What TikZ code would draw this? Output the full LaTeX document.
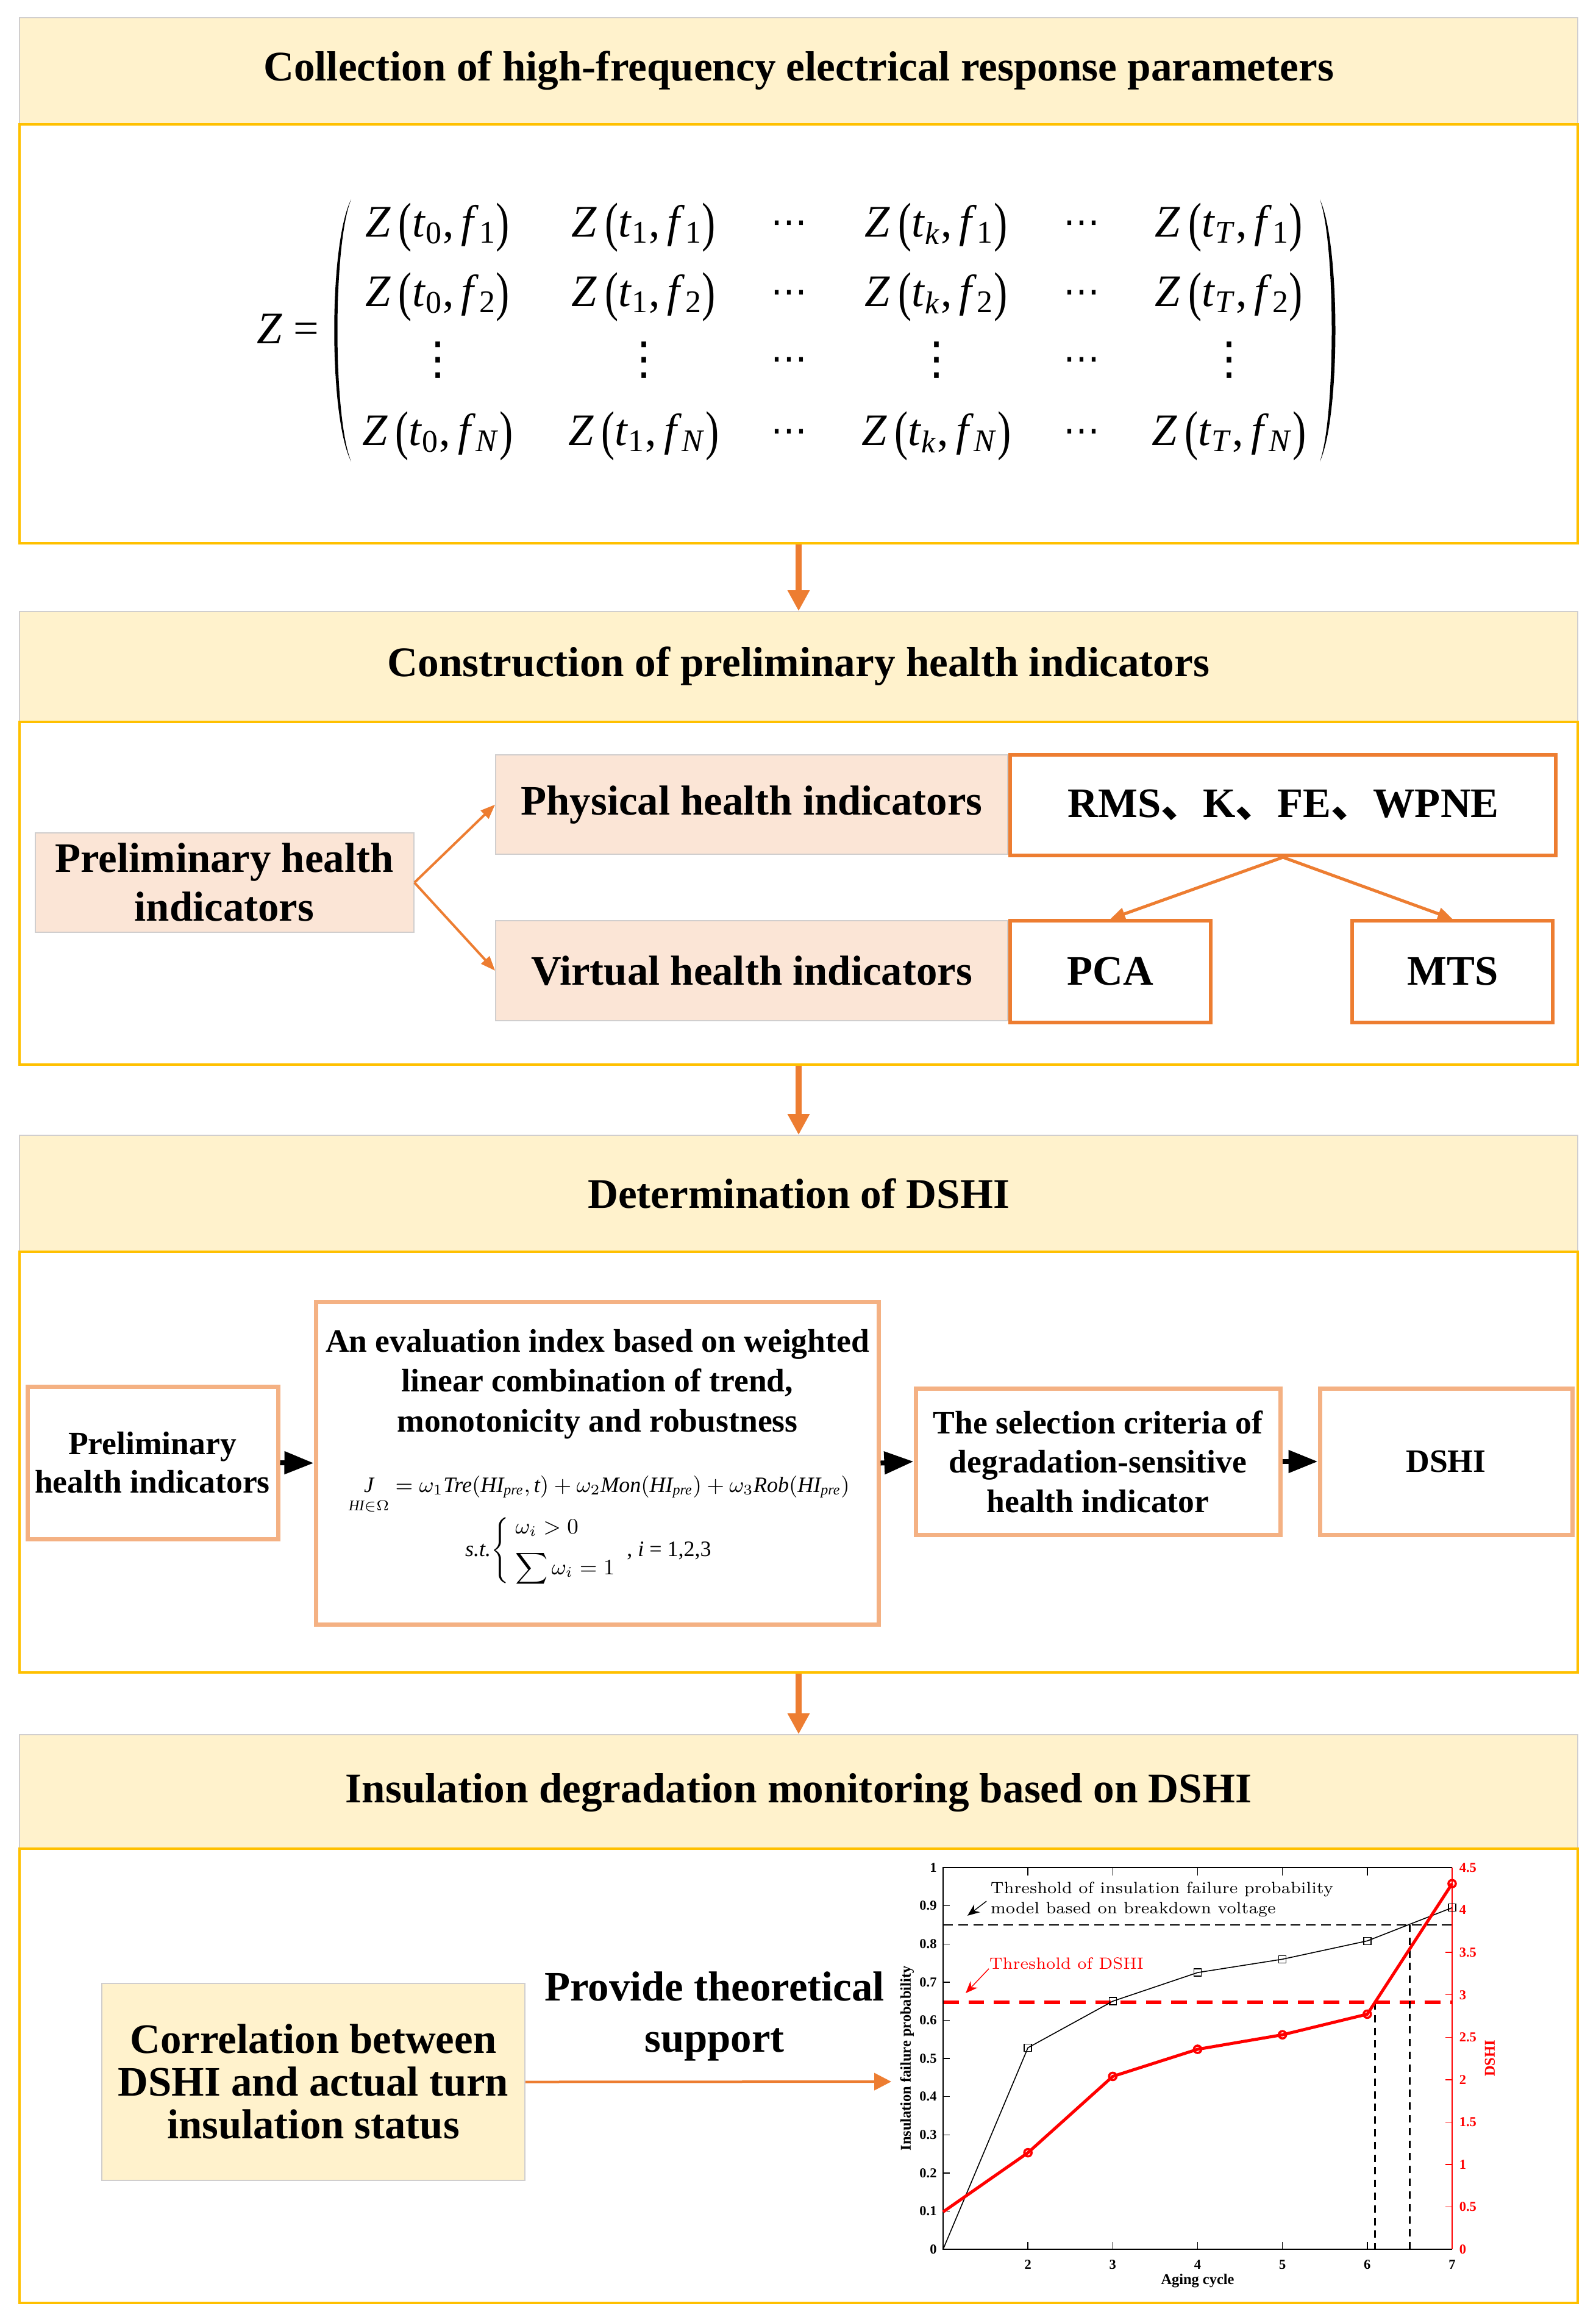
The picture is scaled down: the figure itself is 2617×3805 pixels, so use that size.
\documentclass[tikz,border=0pt]{standalone}
\usepackage{amsmath}
\usepackage{fontspec}
\setmainfont{Liberation Serif}
\newfontfamily\cjk{Noto Sans CJK SC}
\newfontfamily\dejavu{DejaVu Sans}
\usetikzlibrary{arrows.meta,fit,calc}
\definecolor{hdr}{HTML}{FFF2CC}
\definecolor{gold}{HTML}{FFC000}
\definecolor{hgray}{HTML}{D0CECE}
\definecolor{peach}{HTML}{FBE5D6}
\definecolor{orng}{HTML}{ED7D31}
\definecolor{lorng}{HTML}{F4B183}
\newcommand{\Zent}[2]{\textit{Z}\,\raisebox{-0.08em}{\scalebox{0.9}[1.2]{(}}\textit{t}\textsubscript{#1},\,\textit{f}\textsubscript{#2}\raisebox{-0.08em}{\scalebox{0.9}[1.2]{)}}}
\newcommand{\Vd}{{\dejavu ⋮}}
\newcommand{\Cd}{{\dejavu\fontsize{15}{18}\selectfont ⋯}}
\tikzset{
 hdrbox/.style={draw=hgray, fill=hdr, line width=0.4pt, inner sep=0pt},
 hdrtxt/.style={inner sep=0pt, font=\bfseries\fontsize{17.3}{20}\selectfont},
 bodybox/.style={draw=gold, line width=1pt, inner sep=0pt},
 secarrow/.style={orng, line width=2.5pt, -{Triangle[length=8.5pt,width=8.5pt]}},
 peachbox/.style={draw=hgray, fill=peach, line width=0.4pt, inner sep=0pt},
 obox/.style={draw=orng, fill=white, line width=1.5pt, inner sep=0pt},
 btxt/.style={inner sep=0pt, align=center, font=\bfseries\fontsize{17.2}{20}\selectfont},
 oarrow/.style={orng, line width=1pt, -{Triangle[length=6pt,width=4.5pt]}},
 oarrowb/.style={orng, line width=1.25pt, -{Triangle[length=6pt,width=5pt]}},
 lbox/.style={draw=lorng, fill=white, line width=1.75pt, inner sep=0pt},
 stxt/.style={inner sep=0pt, align=center, font=\bfseries\fontsize{13.4}{16.1}\selectfont},
 barrow/.style={black, line width=2pt, -{Triangle[length=12pt,width=9pt]}},
 matent/.style={font=\fontsize{18.5}{22}\selectfont, inner sep=0pt},
 eqfont/.style={font=\fontsize{9}{11}\selectfont, inner sep=0pt},
 ybox/.style={fill=hdr, draw=hgray, line width=0.4pt, inner sep=0pt},
 ticklab/.style={font=\bfseries\fontsize{5.6}{6}\selectfont, inner sep=0pt},
 axlab/.style={font=\bfseries\fontsize{6.1}{7}\selectfont, inner sep=0pt},
 annot/.style={font=\fontfamily{lmr}\selectfont\fontsize{6.7}{8}\selectfont, inner sep=0pt, anchor=west},
 sqmark/.style={draw, line width=0.35pt, minimum size=3pt, inner sep=0pt},
 circmark/.style={circle, draw=red, line width=0.9pt, minimum size=3pt, inner sep=0pt}
}
\begin{document}
\begin{tikzpicture}[x=0.25pt,y=-0.25pt]
\useasboundingbox (0,0) rectangle (2617,3805);
\fill[white] (0,0) rectangle (2617,3805);

% ---------- Section 1 ----------
\node[hdrbox, fit={(32,29)(2588,204)}] (h1) {};
\node[hdrtxt] (h1t) at (1310,116) {Collection of high-frequency electrical response parameters};
\node[bodybox, fit={(32,204)(2588,891)}] (b1) {};
\node[matent] (zeq) at (472,539) {\textit{Z} =};
\fill (576,327) .. controls (539,400) and (539,684) .. (576,757) .. controls (546,684) and (546,400) .. (576,327) -- cycle;
\fill (2165,327) .. controls (2199,400) and (2199,684) .. (2165,757) .. controls (2191,684) and (2191,400) .. (2165,327) -- cycle;
% row 1
\node[matent] (m11) at (718,373) {\Zent{0}{1}};
\node[matent] (m12) at (1056,373) {\Zent{1}{1}};
\node[matent] (m13) at (1294,373) {\Cd};
\node[matent] (m14) at (1536,373) {\Zent{\textit{k}}{1}};
\node[matent] (m15) at (1774,373) {\Cd};
\node[matent] (m16) at (2016,373) {\Zent{\textit{T}}{1}};
% row 2
\node[matent] (m21) at (718,487) {\Zent{0}{2}};
\node[matent] (m22) at (1056,487) {\Zent{1}{2}};
\node[matent] (m23) at (1294,487) {\Cd};
\node[matent] (m24) at (1536,487) {\Zent{\textit{k}}{2}};
\node[matent] (m25) at (1774,487) {\Cd};
\node[matent] (m26) at (2016,487) {\Zent{\textit{T}}{2}};
% row 3
\node[matent] (m31) at (718,590) {\Vd};
\node[matent] (m32) at (1056,590) {\Vd};
\node[matent] (m33) at (1294,597) {\Cd};
\node[matent] (m34) at (1536,590) {\Vd};
\node[matent] (m35) at (1774,597) {\Cd};
\node[matent] (m36) at (2016,590) {\Vd};
% row 4
\node[matent] (m41) at (718,715) {\Zent{0}{\textit{N}}};
\node[matent] (m42) at (1056,715) {\Zent{1}{\textit{N}}};
\node[matent] (m43) at (1294,715) {\Cd};
\node[matent] (m44) at (1536,715) {\Zent{\textit{k}}{\textit{N}}};
\node[matent] (m45) at (1774,715) {\Cd};
\node[matent] (m46) at (2016,715) {\Zent{\textit{T}}{\textit{N}}};

% ---------- Section 2 ----------
\node[hdrbox, fit={(32,1003)(2588,1184)}] (h2) {};
\node[hdrtxt] (h2t) at (1310,1093) {Construction of preliminary health indicators};
\node[bodybox, fit={(32,1184)(2588,1746)}] (b2) {};
\node[peachbox, fit={(58,1366)(679,1529)}] (pre2) {};
\node[btxt] (pre2t) at (368,1447) {Preliminary health\\indicators};
\node[peachbox, fit={(813,1238)(1653,1401)}] (phys) {};
\node[btxt] (physt) at (1233,1320) {Physical health indicators};
\node[peachbox, fit={(813,1510)(1653,1674)}] (virt) {};
\node[btxt] (virtt) at (1233,1592) {Virtual health indicators};
\node[obox, fit={(1657,1238)(2552,1403)}] (rms) {};
\node[btxt] (rmst) at (2105,1320) {RMS{\cjk 、}K{\cjk 、}FE{\cjk 、}WPNE};
\node[obox, fit={(1657,1510)(1986,1677)}] (pca) {};
\node[btxt] (pcat) at (1821,1593) {PCA};
\node[obox, fit={(2218,1510)(2547,1677)}] (mts) {};
\node[btxt] (mtst) at (2383,1593) {MTS};
\draw[oarrow] (pre2.east) -- (phys.west);
\draw[oarrow] (pre2.east) -- (virt.west);
\draw[oarrowb] (rms.south) -- (pca.north);
\draw[oarrowb] (rms.south) -- (mts.north);

% ---------- Section 3 ----------
\node[hdrbox, fit={(32,1862)(2588,2053)}] (h3) {};
\node[hdrtxt] (h3t) at (1310,1957) {Determination of DSHI};
\node[bodybox, fit={(32,2053)(2588,2743)}] (b3) {};
\node[lbox, fit={(45,2274)(456,2524)}] (pre3) {};
\node[stxt, font=\bfseries\fontsize{13.4}{15.8}\selectfont] (pre3t) at (250,2399) {Preliminary\\health indicators};
\node[lbox, fit={(518,2135)(1441,2664)}] (eval) {};
\node[stxt, font=\bfseries\fontsize{13.4}{16.4}\selectfont] (evaltxt) at (980,2270) {An evaluation index based on weighted\\linear combination of trend,\\monotonicity and robustness};
\node[eqfont, anchor=base] (evaleq) at (983,2447) {$\smash[b]{\underset{\raisebox{-2pt}{$\scriptstyle\textit{HI}\in\Omega$}}{\textit{J}}} = \omega_1\textit{Tre}(\textit{HI}_{\textit{pre}},\textit{t}) + \omega_2\textit{Mon}(\textit{HI}_{\textit{pre}}) + \omega_3\textit{Rob}(\textit{HI}_{\textit{pre}})$};
\node[eqfont] (evalst) at (965,2543) {\textit{s.t.}$\Bigg\{\;\begin{array}{@{}l@{}}\omega_i>0\\[4pt] \displaystyle\sum\omega_i=1\end{array}$\;\;, \textit{i} = 1,2,3};
\node[lbox, fit={(1502,2277)(2100,2517)}] (sel) {};
\node[stxt] (selt) at (1801,2397) {The selection criteria of\\degradation-sensitive\\health indicator};
\node[lbox, fit={(2165,2277)(2579,2517)}] (dshi) {};
\node[stxt] (dshit) at (2372,2397) {DSHI};
\draw[barrow] (pre3.east) -- (eval.west);
\draw[barrow] (eval.east) -- (sel.west);
\draw[barrow] (sel.east) -- (dshi.west);

% ---------- Section 4 ----------
\node[hdrbox, fit={(32,2845)(2588,3032)}] (h4) {};
\node[hdrtxt] (h4t) at (1310,2940) {Insulation degradation monitoring based on DSHI};
\node[bodybox, fit={(32,3032)(2588,3777)}] (b4) {};
\node[ybox, fit={(167,3253)(861,3576)}] (corr) {};
\node[btxt, font=\bfseries\fontsize{17.2}{17.4}\selectfont] (corrt) at (514,3414) {Correlation between\\DSHI and actual turn\\insulation status};
\node[btxt, font=\bfseries\fontsize{17.2}{21}\selectfont] (prov) at (1172,3307) {Provide theoretical\\support};
\coordinate (chartin) at (1462,3414);
\draw[orng, line width=1pt, -{Triangle[length=7pt,width=7pt]}] (corr.east) -- (chartin);

% chart
\begin{scope}[shift={(1547,3689)}, x=34.79pt, y=156.5pt]
 \draw[black, line width=0.35pt, dash pattern=on 4pt off 2.2pt] (0,0.85) -- (6,0.85);
 \draw[red, line width=1.5pt, dash pattern=on 6.4pt off 4pt] (0,0.647) -- (6,0.647);
 \draw[black, line width=0.8pt, dash pattern=on 3pt off 2.2pt] (5.09,0.647) -- (5.09,0);
 \draw[black, line width=0.8pt, dash pattern=on 3pt off 2.2pt] (5.5,0.85) -- (5.5,0);
 \draw[line width=0.35pt] (6,1) -- (0,1) -- (0,0) -- (6,0);
 \draw[red, line width=0.35pt] (6,0) -- (6,1);
 \foreach \c in {1,...,5} {
   \draw[line width=0.35pt] (\c,0) -- (\c,0.02);
   \draw[line width=0.35pt] (\c,1) -- (\c,0.98);
 }
 \foreach \v in {0.1,0.2,0.3,0.4,0.5,0.6,0.7,0.8,0.9} \draw[line width=0.35pt] (0,\v) -- (0.08,\v);
 \foreach \k in {1,...,8} \draw[red, line width=0.35pt] (6,\k/9) -- (5.92,\k/9);
 \foreach \v in {0,0.1,0.2,0.3,0.4,0.5,0.6,0.7,0.8,0.9,1} \node[ticklab, anchor=east] at (-0.07,\v) {\v};
 \foreach \d in {0,0.5,1,1.5,2,2.5,3,3.5,4,4.5} \node[ticklab, red, anchor=west] at (0.08+6,\d/4.5) {\d};
 \foreach \c in {2,...,7} \node[ticklab] at (\c-1,-0.04) {\c};
 \node[axlab] (xlab) at (3,-0.083) {Aging cycle};
 \node[axlab, rotate=90] (ylab) at (-0.424,0.5) {Insulation failure probability};
 \node[axlab, rotate=90, red] (rlab) at (6.445,0.5) {DSHI};
 % series
 \draw[line width=0.4pt] plot coordinates {(0,0) (1,0.528) (2,0.65) (3,0.725) (4,0.76) (5,0.808) (6,0.895)};
 \foreach \p in {(1,0.528),(2,0.65),(3,0.725),(4,0.76),(5,0.808),(6,0.895)} \node[sqmark] at \p {};
 \draw[red, line width=1.25pt] plot coordinates {(0,0.098) (1,0.253) (2,0.453) (3,0.524) (4,0.562) (5,0.616) (6,0.958)};
 \foreach \p in {(1,0.253),(2,0.453),(3,0.524),(4,0.562),(5,0.616),(6,0.958)} \node[circmark] at \p {};
 % annotations
 \node[annot] (an1) at (0.553,0.9425) {Threshold of insulation failure probability};
 \node[annot] (an2) at (0.553,0.8898) {model based on breakdown voltage};
 \coordinate (a1s) at (0.511,0.912);
 \coordinate (a1e) at (0.287,0.874);
 \draw[line width=0.35pt, -{Stealth[length=5pt,width=4pt]}] (a1s) -- (a1e);
 \node[annot, red] (an3) at (0.539,0.749) {Threshold of DSHI};
 \coordinate (a2s) at (0.539,0.735);
 \coordinate (a2e) at (0.266,0.671);
 \draw[red, line width=0.35pt, -{Stealth[length=5pt,width=4pt]}] (a2s) -- (a2e);
\end{scope}

% ---------- section arrows ----------
\draw[secarrow] (b1.south) -- (h2.north);
\draw[secarrow] (b2.south) -- (h3.north);
\draw[secarrow] (b3.south) -- (h4.north);
\end{tikzpicture}
\end{document}
